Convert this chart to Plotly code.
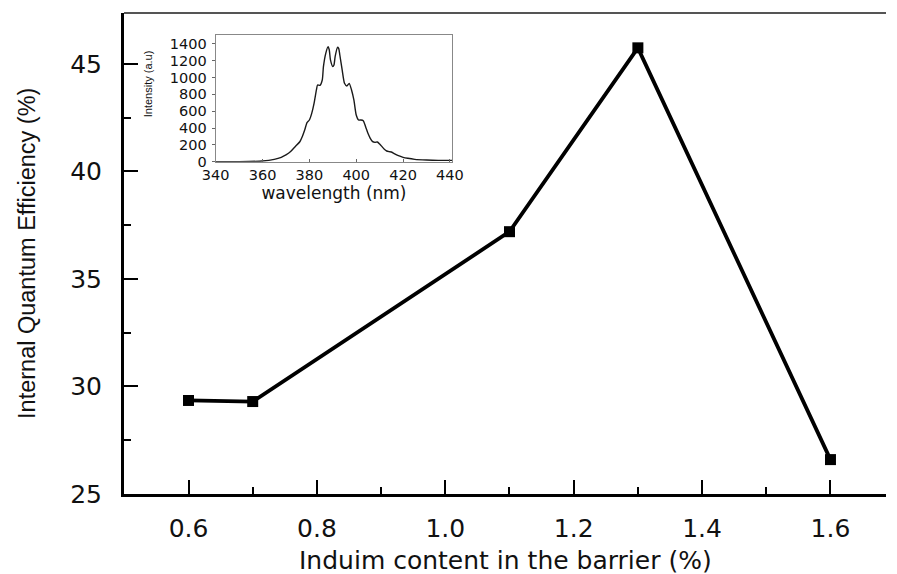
import plotly.graph_objects as go

# Main series: indium content in the barrier vs internal quantum efficiency
indium_content = [0.6, 0.7, 1.1, 1.3, 1.6]
iqe_percent = [29.35, 29.3, 37.2, 45.75, 26.6]

# Inset: emission spectrum
wavelength_nm = [340, 350, 360, 365, 368, 370, 372, 374, 376, 377, 378, 379, 380, 381, 382,
                 383, 383.5, 384.5, 385.5, 386, 387, 388, 388.5, 389, 390, 390.5, 391, 392,
                 392.5, 393, 394, 395, 396, 397, 398, 399, 400, 401, 402, 403, 404, 405, 406,
                 407, 408, 409, 410, 411, 412, 413, 414, 415, 416, 418, 420, 422, 425, 430,
                 435, 441]
intensity_au = [0, 0, 8, 28, 52, 80, 120, 180, 240, 300, 377, 464, 496, 575, 694,
                853, 912, 908, 972, 1130, 1289, 1368, 1328, 1210, 1130, 1150, 1249, 1360,
                1348, 1269, 1091, 932, 900, 932, 853, 734, 555, 496, 496, 488, 416, 337, 278,
                238, 230, 234, 210, 179, 147, 127, 119, 115, 99, 71, 52, 40, 28, 20,
                16, 16]

main_xticks = [0.6, 0.8, 1.0, 1.2, 1.4, 1.6]
main_xticklabels = ["0.6", "0.8", "1.0", "1.2", "1.4", "1.6"]
main_yticks = [25, 30, 35, 40, 45]
inset_xticks = [340, 360, 380, 400, 420, 440]
inset_yticks = [0, 200, 400, 600, 800, 1000, 1200, 1400]

WIDE = "DejaVu Sans, Verdana, sans-serif"
ARIAL = "Liberation Sans, Arial, sans-serif"

fig = go.Figure()

fig.add_trace(go.Scatter(
    x=indium_content, y=iqe_percent, mode="lines+markers",
    line=dict(color="black", width=3.8),
    marker=dict(symbol="square", size=11, color="black"),
    xaxis="x", yaxis="y", showlegend=False,
))

fig.add_trace(go.Scatter(
    x=wavelength_nm, y=intensity_au, mode="lines",
    line=dict(color="#1a1a1a", width=1.4, shape="spline", smoothing=0.6),
    xaxis="x2", yaxis="y2", showlegend=False,
))

fig.update_layout(
    width=897, height=574,
    margin=dict(l=124, r=0, t=13, b=80),
    paper_bgcolor="white", plot_bgcolor="white",
    font=dict(family=WIDE, color="#111"),
    xaxis=dict(
        range=[0.4995, 1.6865], tickmode="array", tickvals=main_xticks,
        ticktext=main_xticklabels, ticks="inside", ticklen=14, tickwidth=2,
        tickcolor="black", minor=dict(ticks="inside", ticklen=7, tickwidth=2,
                                      tickcolor="black", dtick=0.1, tick0=0.5),
        showline=True, linecolor="black", linewidth=3, showgrid=False,
        zeroline=False, tickfont=dict(size=25), ticklabelstandoff=10,
    ),
    yaxis=dict(
        range=[25, 47.37], tickmode="array", tickvals=main_yticks,
        ticks="inside", ticklen=14, tickwidth=2, tickcolor="black",
        minor=dict(ticks="inside", ticklen=7, tickwidth=2, tickcolor="black",
                   dtick=2.5, tick0=25),
        showline=True, linecolor="black", linewidth=3, showgrid=False,
        zeroline=False, tickfont=dict(size=25), ticklabelstandoff=14,
    ),
    xaxis2=dict(
        domain=[0.1203, 0.4308], anchor="y2", range=[340, 441],
        tickmode="array", tickvals=inset_xticks, ticks="inside", ticklen=3,
        tickwidth=1, tickcolor="#666", showline=True, linecolor="#888",
        linewidth=1, mirror=True, showgrid=False, zeroline=False,
        tickfont=dict(size=14.5), ticklabelstandoff=0,
        title=dict(text="wavelength (nm)", font=dict(size=17), standoff=0),
    ),
    yaxis2=dict(
        domain=[0.6909, 0.9543], anchor="x2", range=[0, 1507],
        tickmode="array", tickvals=inset_yticks, ticks="outside", ticklen=3,
        tickwidth=1, tickcolor="#666", showline=True, linecolor="#888",
        linewidth=1, mirror=True, showgrid=False, zeroline=False,
        tickfont=dict(size=14.5), ticklabelstandoff=2,
    ),
    shapes=[dict(type="line", xref="paper", yref="paper", x0=0, x1=1, y0=1, y1=1,
                 line=dict(color="#555", width=2))],
    annotations=[
        dict(text="Internal Quantum Efficiency (%)", xref="paper", yref="paper",
             x=-0.128, y=0.5, xanchor="center", yanchor="middle", textangle=-90,
             showarrow=False, font=dict(family=ARIAL, size=23.5)),
        dict(text="Induim content in the barrier (%)", xref="paper", yref="paper",
             x=0.5, y=-0.139, xanchor="center", yanchor="middle",
             showarrow=False, font=dict(size=25)),
        dict(text="Intensity (a.u)", xref="paper", yref="paper",
             x=0.031, y=0.927, xanchor="center", yanchor="top", textangle=-90,
             showarrow=False, font=dict(family=ARIAL, size=11)),
    ],
)

fig.write_html("out.html")
